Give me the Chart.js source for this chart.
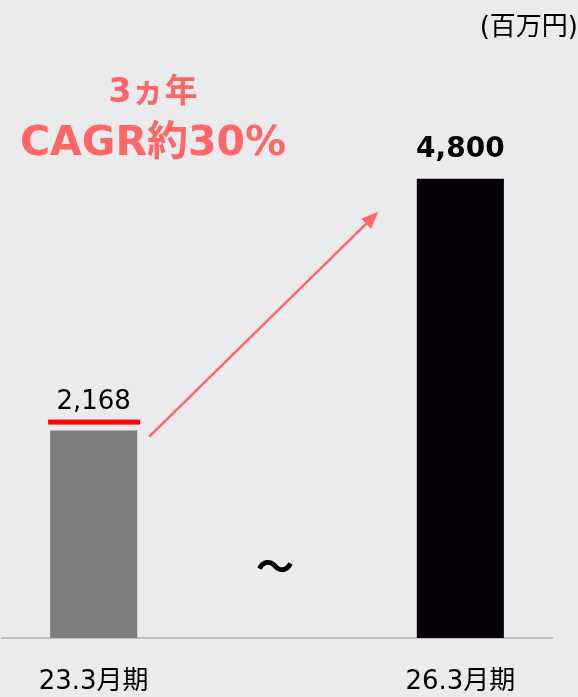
<!DOCTYPE html>
<html>
<head>
<meta charset="utf-8">
<script src="https://cdn.jsdelivr.net/npm/chart.js@4/dist/chart.umd.min.js"></script>
<style>
  html, body { margin: 0; padding: 0; background: #ebebee; }
  #wrap { width: 578px; height: 697px; position: relative; }
</style>
</head>
<body>
<div id="wrap"><canvas id="myChart"></canvas></div>
<script>
var periods = ["23.3月期", "", "26.3月期"];
var sales = [2168, null, 4800];
var valueLabels = ["2,168", "", "4,800"];
var barColors = ["#7f7f7f", "#7f7f7f", "#040006"];
var unitLabel = "(百万円)";
var cagrLines = ["3ヵ年", "CAGR約30%"];

var FONT = "'DejaVu Sans', 'Noto Sans CJK JP', sans-serif";
var CJK = "'Noto Sans CJK JP', sans-serif";
var salmon = "#ff6666";

var extras = {
  id: "extras",
  afterDatasetsDraw: function (chart) {
    var ctx = chart.ctx;
    var x = chart.scales.x, y = chart.scales.y;
    var meta = chart.getDatasetMeta(0);
    ctx.save();

    // value labels
    ctx.textAlign = "center";
    ctx.textBaseline = "alphabetic";
    ctx.fillStyle = "#000";
    ctx.font = "26px " + FONT;
    ctx.fillText(valueLabels[0], meta.data[0].x, y.getPixelForValue(sales[0]) - 22);
    ctx.font = "bold 28px " + FONT;
    ctx.fillText(valueLabels[2], meta.data[2].x, y.getPixelForValue(sales[2]) - 22);

    // red line above first bar
    var b0 = meta.data[0];
    var yLine = y.getPixelForValue(sales[0]) - 8;
    ctx.fillStyle = "#ff0000";
    ctx.fillRect(b0.x - b0.width / 2 - 2, yLine - 3, b0.width + 5, 5);

    // arrow
    var x1 = b0.x + b0.width / 2 + 12, y1 = y.getPixelForValue(sales[0]) + 6;
    var x2 = meta.data[2].x - 82, y2 = y.getPixelForValue(sales[2]) + 33;
    ctx.strokeStyle = salmon;
    ctx.fillStyle = salmon;
    ctx.lineWidth = 2.5;
    var ang = Math.atan2(y2 - y1, x2 - x1);
    ctx.beginPath();
    ctx.moveTo(x1, y1);
    ctx.lineTo(x2 - 10 * Math.cos(ang), y2 - 10 * Math.sin(ang));
    ctx.stroke();
    ctx.beginPath();
    ctx.moveTo(x2, y2);
    ctx.lineTo(x2 - 17 * Math.cos(ang) + 7 * Math.sin(ang), y2 - 17 * Math.sin(ang) - 7 * Math.cos(ang));
    ctx.lineTo(x2 - 17 * Math.cos(ang) - 7 * Math.sin(ang), y2 - 17 * Math.sin(ang) + 7 * Math.cos(ang));
    ctx.closePath();
    ctx.fill();

    // CAGR text
    ctx.fillStyle = salmon;
    ctx.textAlign = "center";
    ctx.font = "bold 33px " + FONT;
    ctx.fillText(cagrLines[0], 153, 102);
    ctx.font = "bold 41px " + FONT;
    ctx.fillText(cagrLines[1], 153, 155);

    // unit
    ctx.fillStyle = "#000";
    ctx.textAlign = "right";
    ctx.font = "26px " + FONT;
    ctx.fillText(unitLabel, 578, 35);

    // wave mark
    ctx.textAlign = "center";
    ctx.font = "bold 38px " + CJK;
    ctx.fillText("～", x.getPixelForValue(1) - 2, 580);

    ctx.restore();
  }
};

new Chart("myChart", {
  type: "bar",
  data: {
    labels: periods,
    datasets: [
      {
        data: sales,
        backgroundColor: barColors,
        categoryPercentage: 1,
        barPercentage: 0.475
      }
    ]
  },
  options: {
    responsive: true,
    maintainAspectRatio: false,
    animation: false,
    layout: { padding: { top: 64, left: 2, right: 26, bottom: 0 } },
    plugins: {
      legend: { display: false },
      tooltip: { enabled: false }
    },
    scales: {
      x: {
        grid: { display: false, drawTicks: false },
        border: { display: true, color: "#bfbfbf", width: 2 },
        ticks: {
          color: "#000",
          padding: 29,
          font: { size: 26, family: FONT }
        },
        afterFit: function (scale) {
          scale.height = 59;
        }
      },
      y: {
        display: false,
        min: 0,
        max: 6000
      }
    }
  },
  plugins: [extras]
});
</script>
</body>
</html>
